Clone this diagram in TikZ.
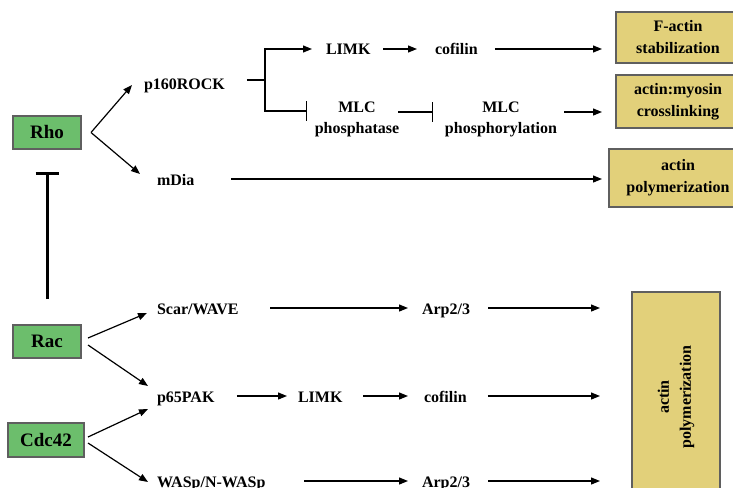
\documentclass[tikz,border=0pt]{standalone}
\usepackage{fontspec}
\setmainfont{Liberation Serif}
\usetikzlibrary{arrows.meta}
\definecolor{gtpgreen}{RGB}{108,190,108}
\definecolor{actinyellow}{RGB}{226,208,122}
\definecolor{edgegray}{RGB}{95,95,95}
\begin{document}
\begin{tikzpicture}[x=1pt,y=-1pt,
  lbl/.style={font=\bfseries\fontsize{16}{21}\selectfont, inner sep=0pt, outer sep=0pt,
              text height=12pt, text depth=0pt, anchor=west},
  two/.style={font=\bfseries\fontsize{16}{21}\selectfont, inner sep=0pt, outer sep=0pt, align=center},
  gtp/.style={draw=edgegray, line width=1.3pt, fill=gtpgreen, inner sep=0pt, outer sep=0pt,
              font=\bfseries\fontsize{19}{22}\selectfont, minimum height=33pt},
  outbox/.style={draw=edgegray, line width=1.3pt, fill=actinyellow, inner sep=0pt, outer sep=0pt,
                 font=\bfseries\fontsize{16}{22}\selectfont, align=center},
  arr/.style={line width=1.2pt, -{Triangle[length=9pt,width=7pt]}},
  inh/.style={line width=1.2pt, -{Bar[width=20pt]}},
  gaps/.style 2 args={shorten <=#1, shorten >=#2}]

\useasboundingbox (0,0) rectangle (733,487);
\clip (0,0) rectangle (733,487);

% small GTPases
\node[gtp, minimum width=68pt] (rho) at (47,132.5) {Rho};
\node[gtp, minimum width=68pt] (rac) at (47,341.5) {Rac};
\node[gtp, minimum width=76pt, minimum height=34pt] (cdc) at (46,440) {Cdc42};

% effectors
\node[lbl] (rock)  at (144,83)  {p160ROCK};
\node[lbl] (limkA) at (326,49)  {LIMK};
\node[lbl] (cofA)  at (435,49)  {cofilin};
\node[two] (mlcp)    at (357,119) {MLC\\phosphatase};
\node[two] (mlcphos) at (501,119) {MLC\\phosphorylation};
\node[lbl] (mdia)  at (157,179) {mDia};
\node[lbl] (scar)  at (157,308) {Scar/WAVE};
\node[lbl] (arpA)  at (422,308) {Arp2/3};
\node[lbl] (pak)   at (157,396) {p65PAK};
\node[lbl] (limkB) at (298,396) {LIMK};
\node[lbl] (cofB)  at (424,396) {cofilin};
\node[lbl] (wasp)  at (157,481) {WASp/N-WASp};
\node[lbl] (arpB)  at (422,481) {Arp2/3};

% outcomes
\node[outbox, minimum width=124pt, minimum height=51pt] (fstab) at (678,37.5) {F-actin\\stabilization};
\node[outbox, minimum width=124pt, minimum height=53pt] (cross) at (678,101.5) {actin:myosin\\crosslinking};
\node[outbox, minimum width=138pt, minimum height=58pt] (poly)  at (678,178) {actin\\polymerization};
\node[outbox, minimum width=88pt, minimum height=210pt,
      label={[rotate=90, align=center, font=\bfseries\fontsize{16}{22}\selectfont]center:{actin\\polymerization}}]
      (bigpoly) at (676,397) {};

% Rac inhibits Rho
\draw[line width=3pt, -{Bar[width=23pt]}, gaps={26pt}{23pt}] (rac.north) -- (rho.south);

% Rho branch
\draw[arr] ([xshift=10pt]rho.east) -- ([xshift=-12pt,yshift=-2pt]rock.west);
\draw[arr] ([xshift=10pt]rho.east) -- ([xshift=-17pt,yshift=5pt]mdia.west);

\coordinate (fork) at (265,80);
\draw[line width=1.2pt, shorten <=22pt] (rock.east |- fork) -- (fork);
\draw[arr, shorten >=14pt] (fork) |- (limkA.west);
\draw[inh, shorten >=7.7pt] (fork) |- ([yshift=8pt]mlcp.west);
\draw[arr, gaps={12.6pt}{18pt}] (limkA.east) -- (cofA.west);
\draw[arr, gaps={17.3pt}{14pt}] (cofA.east) -- (cofA.east -| fstab.west);
\draw[inh, gaps={-1pt}{12pt}] ([yshift=7pt]mlcp.east) -- ([yshift=7pt]mlcphos.west);
\draw[arr, gaps={7pt}{14pt}] ([yshift=7pt]mlcphos.east) -- ([yshift=-10.5pt]cross.west);
\draw[arr, gaps={36.7pt}{7pt}] (mdia.east) -- (mdia.east -| poly.west);

% Rac / Cdc42 branches
\draw[arr] ([xshift=7pt,yshift=3.5pt]rac.east) -- ([xshift=-10pt,yshift=-5pt]scar.west);
\draw[arr] ([xshift=7pt,yshift=-3.5pt]rac.east) -- ([xshift=-9pt,yshift=10pt]pak.west);
\draw[arr] ([xshift=4pt,yshift=3pt]cdc.east) -- ([xshift=-9pt,yshift=-13pt]pak.west);
\draw[arr] ([xshift=4pt,yshift=-3pt]cdc.east) -- ([xshift=-9pt,yshift=-1pt]wasp.west);

\draw[arr, gaps={31.7pt}{14pt}] (scar.east) -- (arpA.west);
\draw[arr, gaps={18pt}{32pt}] (arpA.east) -- (arpA.east -| bigpoly.west);
\draw[arr, gaps={22.3pt}{11pt}] (pak.east) -- (limkB.west);
\draw[arr, gaps={20.6pt}{16pt}] (limkB.east) -- (cofB.west);
\draw[arr, gaps={21.3pt}{32pt}] (cofB.east) -- (cofB.east -| bigpoly.west);
\draw[arr, gaps={39pt}{14pt}] (wasp.east) -- (arpB.west);
\draw[arr, gaps={18pt}{32pt}] (arpB.east) -- (arpB.east -| bigpoly.west);
\end{tikzpicture}
\end{document}
